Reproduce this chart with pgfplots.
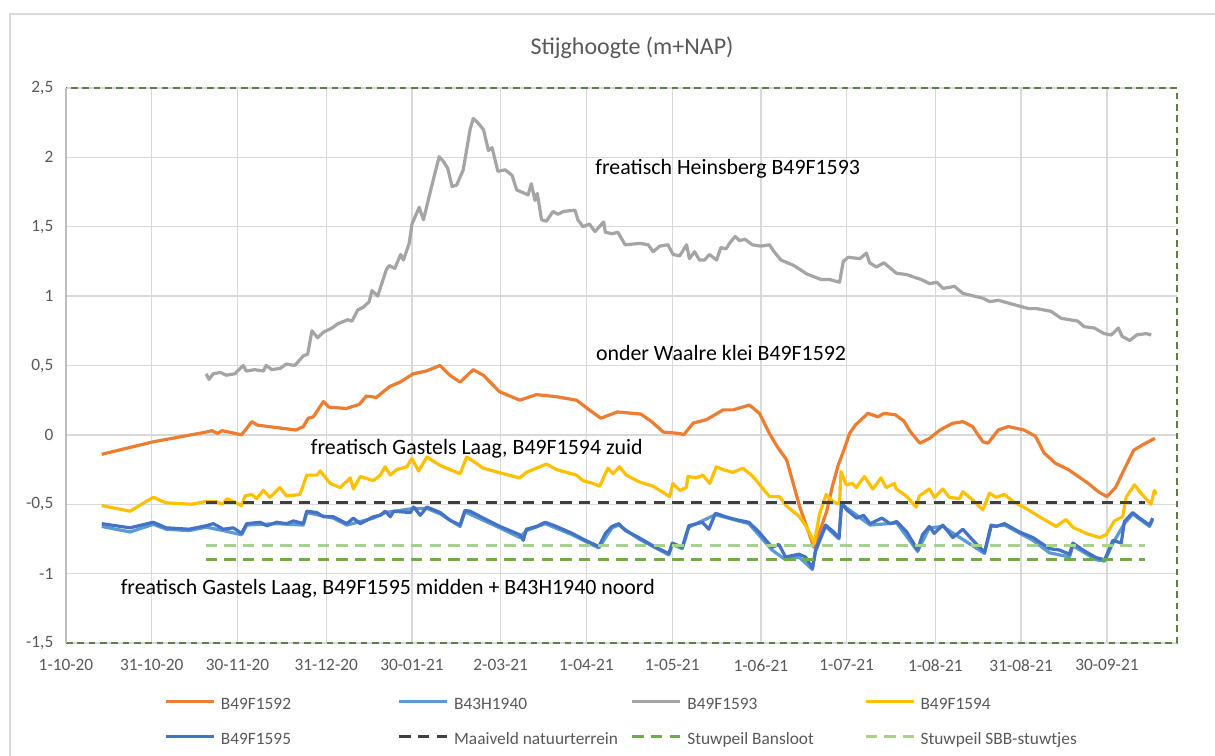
\documentclass[border=0pt]{standalone}
\usepackage{fontspec}
\setmainfont{Carlito}
\usepackage{pgfplots}
\pgfplotsset{compat=1.18}
\definecolor{cOrange}{HTML}{ED7D31}
\definecolor{cLBlue}{HTML}{5B9BD5}
\definecolor{cGray}{HTML}{A5A5A5}
\definecolor{cYellow}{HTML}{FFC000}
\definecolor{cBlue}{HTML}{4472C4}
\definecolor{cBlack}{HTML}{404040}
\definecolor{cGreen}{HTML}{70AD47}
\definecolor{cLGreen}{HTML}{A9D18E}
\definecolor{cGrid}{HTML}{D9D9D9}
\definecolor{cText}{HTML}{595959}
\definecolor{cBorder}{HTML}{5E7F45}
\begin{document}
\begin{tikzpicture}
\useasboundingbox (-49.5pt,-84.75pt) rectangle (861.75pt,482.25pt);
\fill[white] (-49.5pt,-84.75pt) rectangle (861.75pt,482.25pt);
\draw[cGrid, line width=1pt] (-42pt,-100pt) -- (-42pt,471.75pt) -- (900pt,471.75pt);
\begin{axis}[
  at={(0pt,0pt)}, anchor=south west,
  scale only axis, width=833.25pt, height=416.25pt,
  xmin=0, xmax=388.5, ymin=-1.5, ymax=2.5,
  xtick={0,30,60,91,121,152,182,212,243,273,304,334,364},
  xticklabels={1-10-20,31-10-20,30-11-20,31-12-20,30-01-21,2-03-21,1-04-21,1-05-21,1-06-21,1-07-21,1-08-21,31-08-21,30-09-21},
  ytick={-1.5,-1,-0.5,0,0.5,1,1.5,2,2.5},
  yticklabels={{-1,5},-1,{-0,5},0,{0,5},1,{1,5},2,{2,5}},
  /pgf/number format/assume math mode=true,
  grid=major, major grid style={draw=cGrid, line width=1pt},
  axis line style={draw=none}, major tick length=0pt,
  tick label style={font=\fontsize{13}{15}\selectfont, text=cText},
  xticklabel style={yshift=-9pt},
  yticklabel style={xshift=-6pt},
  clip=false,
  legend columns=4,
  legend style={at={(0.0886,-0.099)}, anchor=north west, draw=none, fill=none,
    inner sep=0pt, outer sep=0pt, row sep=14.75pt, column sep=0pt,
    font=\fontsize{13}{15}\selectfont, text=cText,
    nodes={inner sep=0pt, text height=9pt, text depth=2.5pt}},
  legend image code/.code={\draw[#1] (0pt,3.3pt) -- (36pt,3.3pt);},
  every axis plot/.append style={line join=round},
]
% border of plot area
\draw[cBorder, line width=1.1pt, dash pattern=on 5pt off 3.5pt] (rel axis cs:0,0) -- (rel axis cs:1,0) -- (rel axis cs:1,1) -- (rel axis cs:0,1);
\draw[cGrid!70!gray, line width=1.1pt] (rel axis cs:0,0) -- (rel axis cs:0,1);

\addplot[cOrange, line width=2.4pt] coordinates {
(12.5,-0.14) (30.5,-0.05) (49,0.02) (51,0.03) (53,0.01) (54.6,0.03) (57,0.02) (61.4,0.0) (65,0.095) (67,0.07) (74.6,0.05) (80.4,0.035) (83,0.06) (84.7,0.12) (86.5,0.13) (90,0.24) (92,0.2) (98,0.19) (102.6,0.22) (105,0.28) (108.5,0.27) (113.3,0.35) (116.8,0.38) (121.4,0.44) (126,0.46) (130.8,0.5) (134.2,0.43) (137.8,0.38) (142.4,0.47) (145.9,0.43) (151.7,0.31) (158.7,0.25) (164.5,0.29) (171.5,0.275) (178.5,0.25) (183,0.18) (187,0.12) (192.8,0.165) (201,0.15) (204.5,0.1) (208.9,0.02) (214.7,0.01) (216,0.0) (219.3,0.085) (224,0.11) (229.8,0.18) (233.3,0.18) (239,0.215) (242.5,0.155) (246,0.01) (248.7,-0.085) (252,-0.18) (256.6,-0.52) (261.5,-0.81) (264,-0.67) (266,-0.55) (268,-0.37) (270,-0.22) (272,-0.11) (274,0.01) (276,0.07) (280.4,0.155) (284,0.13) (286,0.155) (290,0.145) (293,0.1) (295,0.03) (298.6,-0.06) (302,-0.025) (305.6,0.035) (310,0.083) (313.6,0.095) (317,0.06) (320.6,-0.05) (322.4,-0.06) (326,0.035) (329.5,0.06) (335,0.035) (339,-0.01) (342,-0.13) (346,-0.205) (350.5,-0.25) (354,-0.3) (357.5,-0.35) (361,-0.41) (364,-0.445) (367,-0.38) (370.5,-0.23) (373.4,-0.11) (377.5,-0.06) (380.8,-0.025)
};
\addlegendentry{\makebox[136.5pt][l]{\hspace{4pt}B49F1592}}

\addplot[cLBlue, line width=2.4pt] coordinates {
(12.5,-0.66) (22.4,-0.70) (30.5,-0.645) (35,-0.68) (43,-0.69) (49,-0.665) (55,-0.69) (61.4,-0.72) (63.2,-0.65) (73.7,-0.64) (83,-0.65) (84.2,-0.56) (93.5,-0.6) (98.2,-0.65) (107.5,-0.6) (111.6,-0.56) (121.6,-0.53) (126.2,-0.53) (130.9,-0.57) (137.8,-0.66) (139.5,-0.555) (151.7,-0.67) (158.7,-0.74) (161,-0.69) (167.6,-0.64) (177,-0.72) (186.3,-0.815) (190.9,-0.67) (193.3,-0.65) (200.3,-0.75) (210.8,-0.865) (212,-0.79) (215.5,-0.82) (217.8,-0.665) (227.1,-0.575) (238.8,-0.64) (246.9,-0.83) (251.6,-0.9) (256.3,-0.88) (261,-0.97) (262.1,-0.84) (265.6,-0.66) (270.3,-0.75) (271.2,-0.5) (281.2,-0.65) (290.5,-0.635) (297.8,-0.84) (301.9,-0.67) (306.6,-0.66) (321.2,-0.855) (323.5,-0.66) (328.2,-0.65) (338.1,-0.76) (343.9,-0.85) (350.9,-0.88) (352.1,-0.80) (360.2,-0.9) (363.2,-0.91) (366.1,-0.78) (370.1,-0.64) (373,-0.57) (378.9,-0.66) (380,-0.61)
};
\addlegendentry{\makebox[136.5pt][l]{\hspace{4pt}B43H1940}}

\addplot[cGray, line width=2.4pt] coordinates {
(49,0.44) (50,0.40) (51.5,0.44) (54,0.45) (56,0.43) (59,0.44) (62,0.50) (63,0.46) (66,0.47) (69,0.46) (70,0.5) (72,0.47) (75,0.48) (77,0.51) (80,0.5) (83,0.57) (84.5,0.58) (86,0.75) (88,0.7) (90,0.74) (93,0.77) (95,0.8) (98.5,0.83) (100,0.82) (102,0.9) (104,0.92) (106,0.96) (107,1.04) (109,1.0) (112,1.19) (113,1.22) (115,1.2) (116,1.25) (117,1.3) (118,1.26) (120,1.38) (121,1.52) (123.5,1.64) (125,1.55) (127,1.72) (129,1.885) (130.5,2.005) (132,1.97) (133.5,1.92) (135,1.79) (136.6,1.8) (138.9,1.91) (141.3,2.2) (142.4,2.28) (144,2.25) (146,2.2) (147.7,2.05) (149,2.07) (151,1.9) (153.6,1.91) (156,1.87) (157.6,1.765) (161.6,1.73) (162.7,1.81) (164,1.69) (164.8,1.74) (166.3,1.55) (168,1.54) (170.3,1.61) (172,1.59) (174,1.61) (178,1.62) (179,1.55) (180.8,1.5) (183,1.52) (185,1.465) (188,1.535) (188.6,1.46) (191,1.45) (193,1.46) (195.5,1.37) (200.7,1.38) (203.6,1.37) (205.3,1.32) (207.6,1.36) (210.5,1.37) (212.3,1.3) (214.6,1.29) (217,1.37) (218,1.27) (219.8,1.32) (221.5,1.26) (223.3,1.26) (225,1.3) (227.5,1.26) (229,1.35) (230.8,1.34) (232,1.38) (234,1.43) (235.5,1.4) (237.4,1.41) (240,1.37) (243,1.36) (246,1.37) (247.6,1.32) (250,1.26) (254.6,1.22) (259,1.16) (264,1.12) (267,1.12) (270.5,1.1) (271.8,1.25) (273.5,1.28) (277.6,1.27) (279.9,1.31) (281,1.24) (283.4,1.21) (286,1.24) (290.4,1.165) (294,1.155) (297.5,1.13) (299,1.12) (302,1.09) (304.5,1.1) (306.7,1.056) (310.7,1.07) (313.6,1.02) (320.6,0.985) (323,0.96) (326,0.97) (329.5,0.95) (336.6,0.91) (339.5,0.91) (344.5,0.89) (348,0.84) (353.8,0.82) (356,0.78) (359.6,0.77) (363,0.73) (365.5,0.72) (368,0.77) (369.3,0.71) (372,0.68) (374.4,0.72) (377.7,0.73) (379.5,0.72)
};
\addlegendentry{\makebox[136.5pt][l]{\hspace{4pt}B49F1593}}

\addplot[cYellow, line width=2.4pt] coordinates {
(12.5,-0.51) (22.4,-0.55) (30.5,-0.45) (35,-0.49) (44,-0.5) (49,-0.48) (52.5,-0.48) (54.6,-0.5) (56.4,-0.46) (61.4,-0.51) (62.6,-0.44) (65,-0.43) (66.7,-0.46) (69,-0.4) (71.3,-0.45) (74.8,-0.38) (77.1,-0.44) (81.8,-0.43) (84.2,-0.29) (87.7,-0.29) (88.9,-0.26) (92.4,-0.35) (95.9,-0.38) (99.4,-0.31) (100.5,-0.39) (102.9,-0.3) (107.5,-0.33) (109.9,-0.29) (111.6,-0.23) (113.4,-0.29) (115.7,-0.25) (119.2,-0.23) (120.9,-0.17) (123.3,-0.26) (126.2,-0.16) (130.8,-0.22) (134.2,-0.25) (137.8,-0.28) (140.1,-0.16) (142.4,-0.19) (145.9,-0.24) (152.9,-0.28) (158.7,-0.31) (161,-0.27) (165.7,-0.23) (168,-0.21) (171.5,-0.25) (178.5,-0.29) (180.8,-0.33) (184.3,-0.35) (186.6,-0.37) (189.5,-0.24) (191.3,-0.28) (193.6,-0.23) (195.9,-0.29) (200.6,-0.34) (205.3,-0.37) (211.1,-0.445) (212.2,-0.35) (214.6,-0.4) (216.9,-0.38) (217.5,-0.3) (220.4,-0.31) (222.7,-0.29) (225.1,-0.35) (227.4,-0.23) (229.7,-0.25) (233.2,-0.27) (235.5,-0.25) (236.7,-0.24) (240.2,-0.3) (246,-0.445) (249.5,-0.445) (251.8,-0.51) (256.5,-0.59) (258.8,-0.66) (261.7,-0.78) (263.5,-0.57) (265.8,-0.43) (268.1,-0.48) (270.5,-0.5) (271,-0.265) (272.8,-0.36) (275.1,-0.35) (276.3,-0.38) (279.2,-0.3) (282.1,-0.39) (285,-0.31) (286.8,-0.38) (289.7,-0.35) (290.3,-0.39) (293.8,-0.44) (297.3,-0.52) (298.4,-0.44) (301.9,-0.39) (303.7,-0.45) (306.6,-0.39) (308.9,-0.45) (312.4,-0.46) (313.6,-0.41) (317.1,-0.47) (320.6,-0.54) (322.9,-0.42) (325.2,-0.45) (328.2,-0.43) (331.1,-0.48) (335.7,-0.53) (340.4,-0.59) (346.2,-0.66) (349.7,-0.61) (352,-0.665) (356.7,-0.71) (361.4,-0.74) (363.7,-0.72) (366.6,-0.62) (369.5,-0.59) (370.7,-0.45) (373.6,-0.36) (375.9,-0.42) (379.4,-0.5) (380.6,-0.4) (381.2,-0.43)
};
\addlegendentry{\makebox[136.5pt][l]{\hspace{4pt}B49F1594}}

\addplot[cBlue, line width=2.4pt] coordinates {
(12.5,-0.64) (22.4,-0.67) (30.5,-0.63) (35,-0.67) (43,-0.68) (49,-0.655) (51.5,-0.64) (55,-0.68) (58.5,-0.67) (61.4,-0.71) (63.2,-0.64) (67.9,-0.63) (70.2,-0.655) (73.7,-0.63) (77.2,-0.64) (79.5,-0.62) (83,-0.64) (84.2,-0.55) (87.7,-0.56) (90,-0.59) (93.5,-0.59) (98.2,-0.64) (100.5,-0.6) (102.9,-0.64) (107.5,-0.59) (109.9,-0.58) (111.6,-0.55) (113.4,-0.59) (114.6,-0.55) (120.4,-0.56) (121.6,-0.52) (123.9,-0.58) (126.2,-0.52) (130.9,-0.56) (134.2,-0.615) (137.8,-0.65) (139.5,-0.545) (141.3,-0.55) (145.9,-0.6) (151.7,-0.66) (158.7,-0.72) (159.9,-0.76) (161,-0.68) (164.5,-0.66) (167.6,-0.63) (171.5,-0.66) (177,-0.71) (181.6,-0.76) (186.3,-0.805) (188.6,-0.71) (190.9,-0.66) (193.3,-0.64) (195.6,-0.69) (200.3,-0.74) (206.1,-0.81) (210.8,-0.855) (212,-0.78) (215.5,-0.81) (217.8,-0.655) (222.5,-0.63) (224.8,-0.68) (227.1,-0.565) (230.6,-0.59) (234.1,-0.61) (238.8,-0.63) (242.3,-0.7) (246.9,-0.81) (249.3,-0.79) (251.6,-0.88) (256.3,-0.86) (258.6,-0.88) (261,-0.96) (262.1,-0.83) (265.6,-0.65) (267.9,-0.69) (270.3,-0.74) (271.2,-0.49) (273,-0.54) (276.5,-0.6) (278.9,-0.58) (281.2,-0.64) (285.3,-0.6) (288.2,-0.64) (290.5,-0.625) (294,-0.7) (297.8,-0.83) (299.5,-0.72) (301.9,-0.66) (303.6,-0.71) (306.6,-0.65) (310.1,-0.74) (313.6,-0.68) (317.1,-0.76) (321.2,-0.845) (323.5,-0.65) (325.3,-0.66) (328.2,-0.64) (333.4,-0.7) (338.1,-0.74) (343.9,-0.82) (347.4,-0.83) (350.9,-0.86) (352.1,-0.78) (355.6,-0.83) (360.2,-0.885) (363.2,-0.9) (366.1,-0.76) (369,-0.78) (370.1,-0.625) (373,-0.56) (375.4,-0.6) (378.9,-0.65) (380,-0.6)
};
\addlegendentry{\makebox[136.5pt][l]{\hspace{4pt}B49F1595}}

\addplot[cBlack, line width=2.4pt, dash pattern=on 8.5pt off 5.5pt] coordinates {(48.8,-0.49) (377.3,-0.49)};
\addlegendentry{\makebox[136.5pt][l]{\hspace{4pt}Maaiveld natuurterrein}}
\addplot[cGreen, line width=2.4pt, dash pattern=on 8.5pt off 5.5pt] coordinates {(48.8,-0.9) (377.3,-0.9)};
\addlegendentry{\makebox[136.5pt][l]{\hspace{4pt}Stuwpeil Bansloot}}
\addplot[cLGreen, line width=2.4pt, dash pattern=on 8.5pt off 5.5pt] coordinates {(48.8,-0.8) (377.3,-0.8)};
\addlegendentry{\makebox[136.5pt][l]{\hspace{4pt}Stuwpeil SBB-stuwtjes}}

\node[anchor=west, font=\fontsize{16.4}{19}\selectfont] at (axis cs:183.5,1.916) {freatisch Heinsberg B49F1593};
\node[anchor=west, font=\fontsize{16.4}{19}\selectfont] at (axis cs:183.7,0.592) {onder Waalre klei B49F1592};
\node[anchor=west, font=\fontsize{16.4}{19}\selectfont] at (axis cs:84,-0.097) {freatisch Gastels Laag, B49F1594 zuid};
\node[anchor=west, font=\fontsize{16.4}{19}\selectfont] at (axis cs:17.5,-1.106) {freatisch Gastels Laag, B49F1595 midden + B43H1940 noord};
\end{axis}
\node[font=\fontsize{18}{22}\selectfont, text=cText] at (424.5pt,446.25pt) {Stijghoogte (m+NAP)};
\end{tikzpicture}
\end{document}
